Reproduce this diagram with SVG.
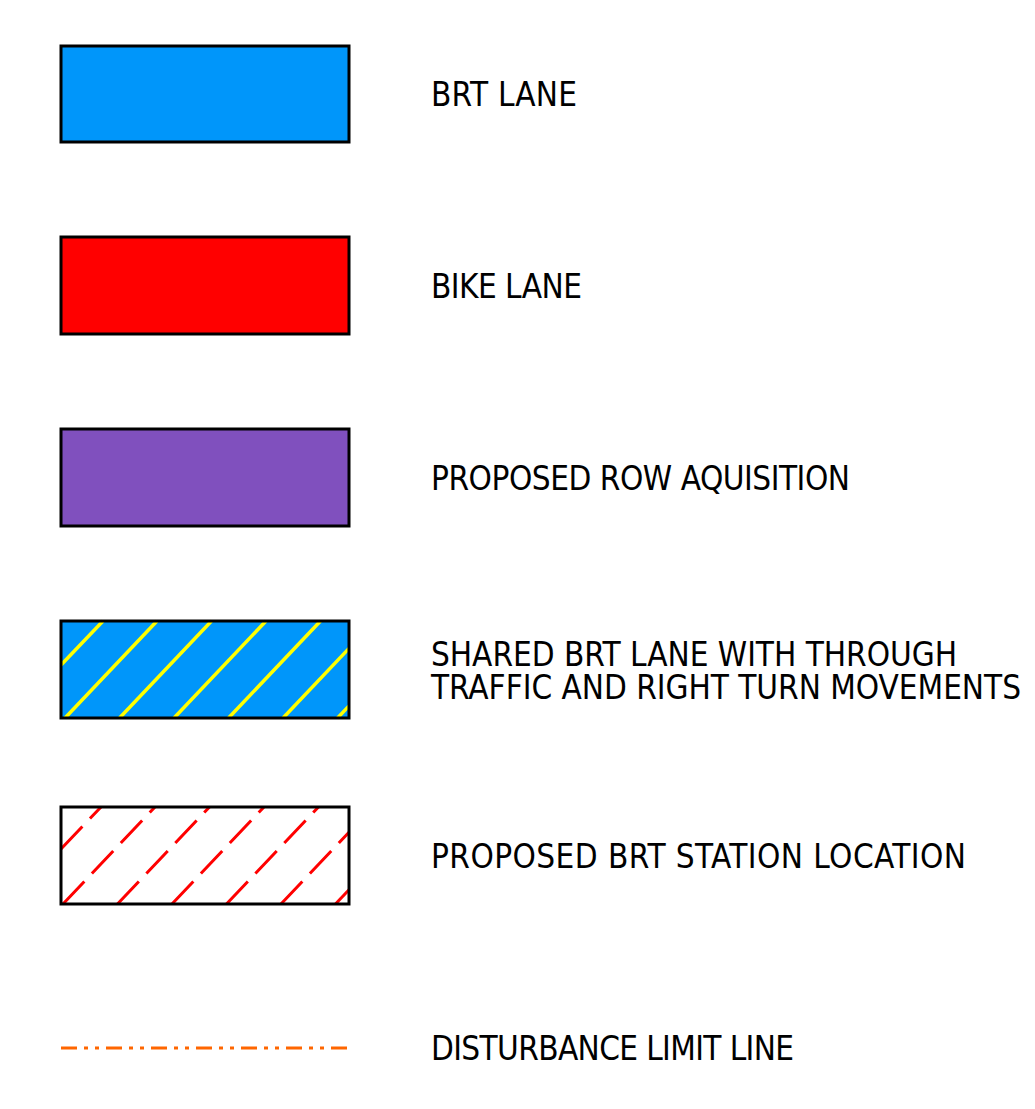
<svg xmlns="http://www.w3.org/2000/svg" width="1035" height="1109" viewBox="0 0 1035 1109">
<style>
.box{stroke:#000;stroke-width:3;}
.lbl{font-family:"DejaVu Sans Condensed","Liberation Sans",Arial,sans-serif;font-stretch:condensed;font-size:33px;fill:#000;}
.yh{stroke:#FFFF00;stroke-width:3.5;fill:none;}
.rh{stroke:#FF0000;stroke-width:3;fill:none;stroke-dasharray:31 11;}
</style>
<rect width="1035" height="1109" fill="#fff"/>
<g id="brt-lane">
<rect class="box" x="61" y="46" width="288" height="96" fill="#0096FA"/>
<text class="lbl" x="431" y="106" textLength="146" lengthAdjust="spacing">BRT LANE</text>
</g>
<g id="bike-lane">
<rect class="box" x="61" y="237" width="288" height="97" fill="#FF0000"/>
<text class="lbl" x="431" y="298" textLength="151" lengthAdjust="spacing">BIKE LANE</text>
</g>
<g id="row-acquisition">
<rect class="box" x="61" y="429" width="288" height="97" fill="#8050BE"/>
<text class="lbl" x="431" y="490" textLength="419" lengthAdjust="spacing">PROPOSED ROW  AQUISITION</text>
</g>
<g id="shared-brt-lane">
<rect x="61" y="621" width="288" height="97" fill="#0096FA"/>
<g class="yh">
<line x1="61" y1="665" x2="103" y2="621"/>
<line x1="65" y1="718" x2="157" y2="621"/>
<line x1="119.5" y1="718" x2="211.5" y2="621"/>
<line x1="174" y1="718" x2="266" y2="621"/>
<line x1="228.5" y1="718" x2="320.5" y2="621"/>
<line x1="283" y1="718" x2="349" y2="648.4"/>
<line x1="337.5" y1="718" x2="349" y2="705.9"/>
</g>
<rect class="box" x="61" y="621" width="288" height="97" fill="none"/>
<text class="lbl" x="431" y="666" textLength="526" lengthAdjust="spacing">SHARED BRT LANE WITH THROUGH</text>
<text class="lbl" x="431" y="699" textLength="590" lengthAdjust="spacing">TRAFFIC AND RIGHT TURN MOVEMENTS</text>
</g>
<g id="brt-station">
<rect x="61" y="807" width="288" height="97" fill="#fff"/>
<g class="rh">
<line x1="61" y1="849" x2="101" y2="807"/>
<line x1="63" y1="904" x2="155" y2="807"/>
<line x1="117.5" y1="904" x2="209.5" y2="807"/>
<line x1="172" y1="904" x2="264" y2="807"/>
<line x1="226.5" y1="904" x2="318.5" y2="807"/>
<line x1="281" y1="904" x2="349" y2="832.3"/>
<line x1="335.5" y1="904" x2="349" y2="889.8"/>
</g>
<rect class="box" x="61" y="807" width="288" height="97" fill="none"/>
<text class="lbl" x="431" y="868" textLength="535" lengthAdjust="spacing">PROPOSED BRT STATION LOCATION</text>
</g>
<g id="disturbance-limit">
<line x1="61" y1="1048" x2="349" y2="1048" stroke="#FF6600" stroke-width="3" stroke-dasharray="16 7 4 7 4 7"/>
<text class="lbl" x="431" y="1060" textLength="363" lengthAdjust="spacing">DISTURBANCE LIMIT LINE</text>
</g>
<g id="connectors"></g>
</svg>
